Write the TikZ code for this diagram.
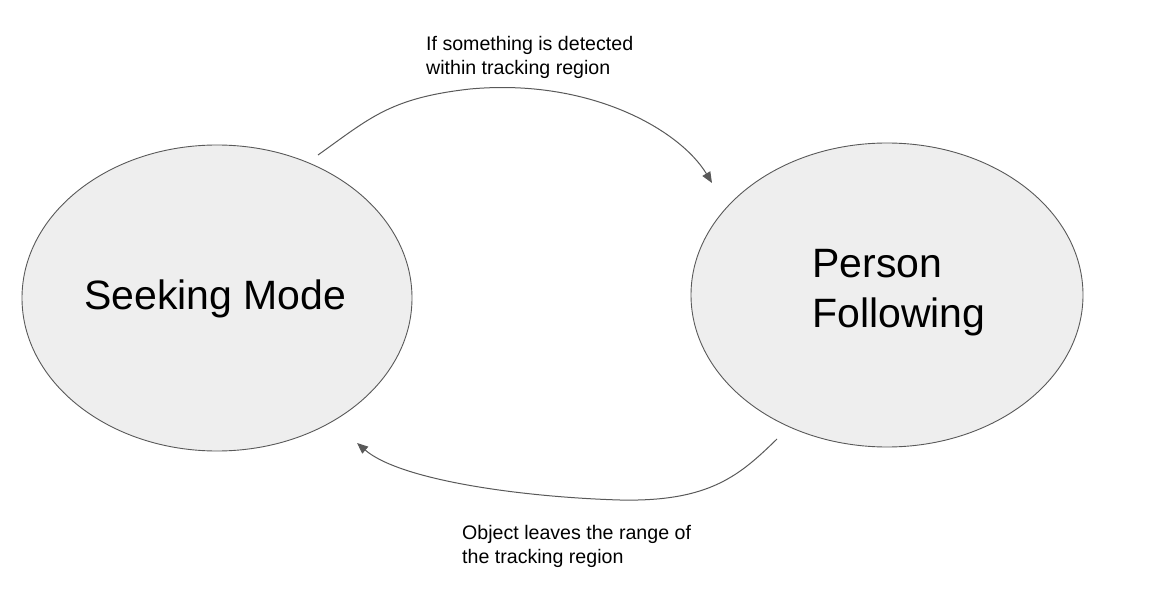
\documentclass[tikz,border=0pt]{standalone}
\usepackage{fontspec}
\setmainfont{Liberation Sans}
\usetikzlibrary{arrows.meta}
\definecolor{statefill}{HTML}{EEEEEE}
\definecolor{edgecol}{HTML}{595959}
\begin{document}
\begin{tikzpicture}[x=1pt,y=-1pt,
  big/.style={font=\fontsize{41}{50}\selectfont,anchor=base west,align=left,inner sep=0pt},
  small/.style={font=\fontsize{19.6}{24}\selectfont,anchor=base west,align=left,inner sep=0pt},
  conn/.style={draw=edgecol,line width=1pt,-{Triangle[length=11pt,width=9pt]}}]
\useasboundingbox (0,0) rectangle (1154,599);
\fill[statefill,draw=edgecol,line width=0.9pt] (217,298) ellipse [x radius=195,y radius=153];
\fill[statefill,draw=edgecol,line width=0.9pt] (887,295) ellipse [x radius=196,y radius=152];
\coordinate (seek) at (217,298);
\coordinate (follow) at (887,295);
\node[big] (seektxt) at (84,309) {Seeking Mode};
\node[big] (followtxt) at (812,327) {Person\\Following};
\coordinate (a1) at (318,155);
\coordinate (b1) at (712,183);
\coordinate (a2) at (777,439);
\coordinate (b2) at (357,443);
\draw[conn] (a1) .. controls (370,118) and (390,98) .. (470,89) .. controls (590,78) and (680,130) .. (b1);
\draw[conn] (a2) .. controls (740,475) and (710,502) .. (620,500) .. controls (520,497) and (400,480) .. (b2);
\node[small] (toplbl) at (426,75) {If something is detected\\within tracking region};
\node[small] (botlbl) at (462,563) {Object leaves the range of\\the tracking region};
\end{tikzpicture}
\end{document}
